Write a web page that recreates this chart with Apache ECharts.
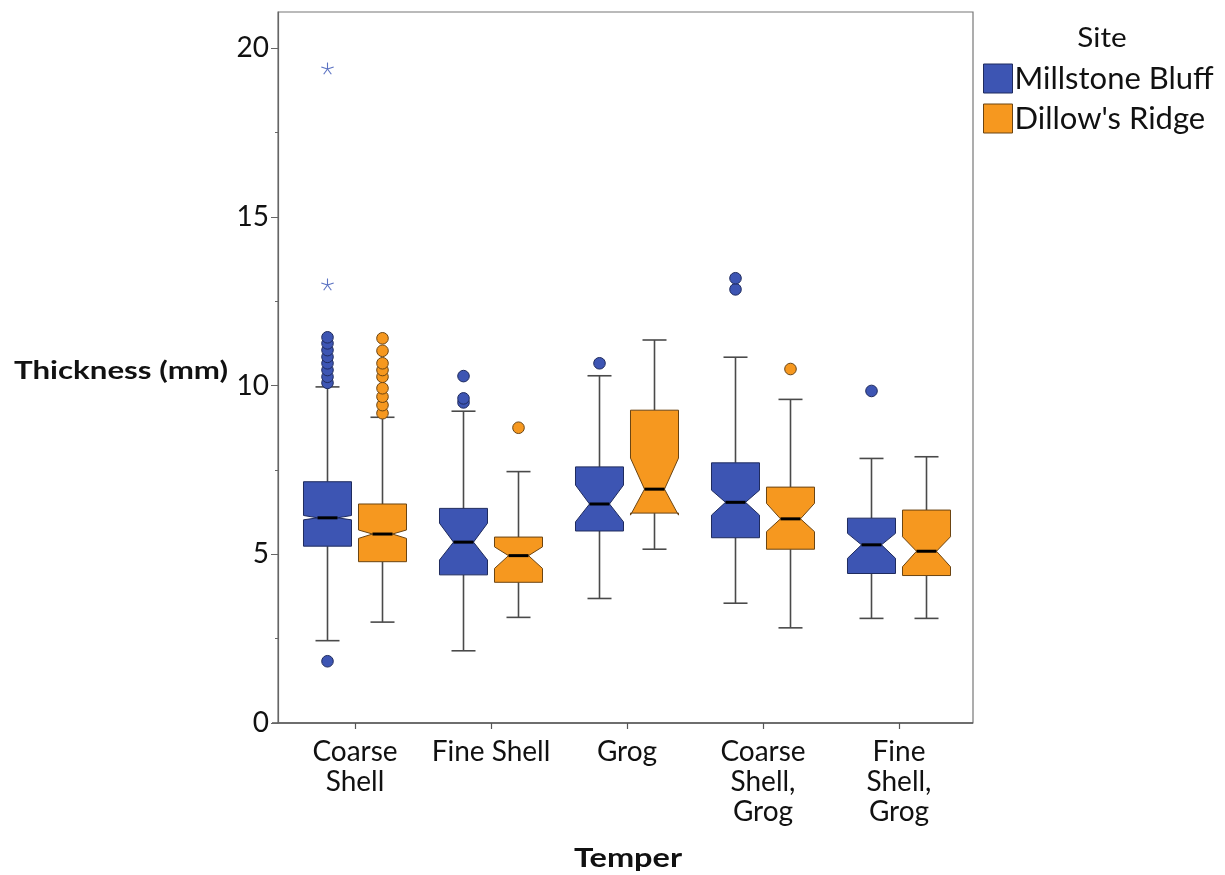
<!DOCTYPE html>
<html>
<head>
<meta charset="utf-8">
<script src="https://cdn.jsdelivr.net/npm/echarts@6/dist/echarts.min.js"></script>
<style>
  html, body { margin: 0; padding: 0; background: #fff; }
  #chart { width: 1225px; height: 875px; }
</style>
</head>
<body>
<div id="chart"></div>
<script>
// Temper categories along the x axis
const categories = ['Coarse\nShell', 'Fine Shell', 'Grog', 'Coarse\nShell,\nGrog', 'Fine\nShell,\nGrog'];
const sites = ['Millstone Bluff', "Dillow's Ridge"];

// Y axis ticks (mm)
const yMajorTicks = [0, 5, 10, 15, 20];
const yMinorTicks = [2.5, 7.5, 12.5, 17.5];

// Millstone Bluff box statistics, one value per temper
const mbWhiskerLow  = [2.44, 2.14, 3.69, 3.55, 3.10];
const mbQ1          = [5.24, 4.39, 5.69, 5.49, 4.43];
const mbNotchLow    = [6.02, 4.83, 5.96, 6.16, 4.88];
const mbMedian      = [6.08, 5.36, 6.49, 6.54, 5.28];
const mbNotchHigh   = [6.15, 5.92, 7.05, 6.90, 5.62];
const mbQ3          = [7.15, 6.36, 7.59, 7.71, 6.07];
const mbWhiskerHigh = [9.96, 9.24, 10.29, 10.84, 7.84];
const mbOutliers = [
  [1.83, 10.08, 10.26, 10.46, 10.66, 10.85, 11.05, 11.25, 11.43],
  [9.50, 9.62, 10.28],
  [10.66],
  [12.85, 13.18],
  [9.84]
];
const mbExtremes = [[12.98, 19.38], [], [], [], []];

// Dillow's Ridge box statistics, one value per temper
const drWhiskerLow  = [2.99, 3.13, 5.15, 2.82, 3.10];
const drQ1          = [4.78, 4.17, 6.22, 5.15, 4.37];
const drNotchLow    = [5.47, 4.58, 6.16, 5.67, 4.63];
const drMedian      = [5.60, 4.96, 6.93, 6.05, 5.09];
const drNotchHigh   = [5.72, 5.22, 7.85, 6.51, 5.52];
const drQ3          = [6.49, 5.51, 9.27, 6.99, 6.31];
const drWhiskerHigh = [9.06, 7.45, 11.35, 9.59, 7.89];
const drOutliers = [
  [9.18, 9.42, 9.67, 9.92, 10.26, 10.46, 10.66, 11.03, 11.40],
  [8.75],
  [],
  [10.49],
  []
];
const drExtremes = [[], [], [], [], []];

const palette = {
  'Millstone Bluff': { fill: '#3d55b3', edge: '#1f2b5e', star: '#5b72c2' },
  "Dillow's Ridge": { fill: '#f6981f', edge: '#6b4412', star: '#f6981f' }
};

function boxRows(wl, q1, nl, med, nh, q3, wh) {
  return categories.map((c, i) => [i, wl[i], q1[i], nl[i], med[i], nh[i], q3[i], wh[i]]);
}

// Notched box-and-whisker with outliers (circles) and extremes (stars)
function makeRenderer(side, colors, outliers, extremes) {
  return function (params, api) {
    const idx = api.value(0);
    const band = api.size([1, 0])[0];
    const cx = api.coord([idx, 0])[0] + side * band * 0.2022;
    const half = band * 0.1765;
    const depth = band * 0.103;
    const capHalf = half * 0.5;
    const y = (v) => api.coord([idx, v])[1];
    const wl = y(api.value(1)), q1 = y(api.value(2)), nl = y(api.value(3));
    const md = y(api.value(4)), nh = y(api.value(5)), q3 = y(api.value(6));
    const wh = y(api.value(7));
    const L = cx - half, R = cx + half;
    const children = [];
    const wStyle = { stroke: '#4a4a4a', lineWidth: 1.6 };
    children.push({ type: 'line', shape: { x1: cx, y1: wh, x2: cx, y2: q3 }, style: wStyle });
    children.push({ type: 'line', shape: { x1: cx, y1: q1, x2: cx, y2: wl }, style: wStyle });
    children.push({ type: 'line', shape: { x1: cx - capHalf, y1: wh, x2: cx + capHalf, y2: wh }, style: wStyle });
    children.push({ type: 'line', shape: { x1: cx - capHalf, y1: wl, x2: cx + capHalf, y2: wl }, style: wStyle });
    children.push({
      type: 'polygon',
      shape: { points: [
        [L, q3], [L, nh], [L + depth, md], [L, nl], [L, q1],
        [R, q1], [R, nl], [R - depth, md], [R, nh], [R, q3]
      ] },
      style: { fill: colors.fill, stroke: colors.edge, lineWidth: 1 }
    });
    children.push({ type: 'line', shape: { x1: L + depth, y1: md, x2: R - depth, y2: md }, style: { stroke: '#000', lineWidth: 3 } });
    (outliers[idx] || []).forEach(v => {
      children.push({ type: 'circle', shape: { cx: cx, cy: y(v), r: 5.8 }, style: { fill: colors.fill, stroke: colors.edge, lineWidth: 1 } });
    });
    (extremes[idx] || []).forEach(v => {
      const sy = y(v), r = 6.5;
      for (let k = 0; k < 5; k++) {
        const a = -Math.PI / 2 + k * 2 * Math.PI / 5;
        children.push({ type: 'line', shape: { x1: cx, y1: sy, x2: cx + r * Math.cos(a), y2: sy + r * Math.sin(a) }, style: { stroke: colors.star, lineWidth: 1.1 } });
      }
    });
    return { type: 'group', children: children };
  };
}

const chart = echarts.init(document.getElementById('chart'));
const font = 'Lato, "DejaVu Sans", sans-serif';

// Wide headings: Lato stretched horizontally
function heading(text, x, y, size, weight, align, stretch) {
  return {
    type: 'text', x: x, y: y, scaleX: stretch, silent: true,
    style: { text: text, x: 0, y: 0, textAlign: align, textVerticalAlign: 'middle',
             fontFamily: 'Lato', fontSize: size, fontWeight: weight, fill: '#111' }
  };
}

chart.setOption({
  backgroundColor: '#ffffff',
  animation: false,
  textStyle: { fontFamily: font },
  legend: {
    orient: 'vertical',
    left: 983,
    top: 63,
    padding: 0,
    itemWidth: 29,
    itemHeight: 29,
    itemGap: 9,
    icon: 'rect',
    textStyle: { fontFamily: font, fontSize: 31, color: '#111', padding: [0, 0, 0, -3] },
    data: sites.map(s => ({ name: s, itemStyle: { color: palette[s].fill, borderColor: palette[s].edge, borderWidth: 1 } }))
  },
  grid: { left: 287, top: 12, width: 680, height: 711, containLabel: false },
  xAxis: {
    type: 'category',
    data: categories,
    boundaryGap: true,
    axisLine: { show: false },
    axisTick: { show: true, alignWithLabel: true, length: 6, lineStyle: { color: '#555', width: 1.2 } },
    axisLabel: { fontFamily: font, fontSize: 28, color: '#111', lineHeight: 30, margin: 14, interval: 0 },
    splitLine: { show: false }
  },
  yAxis: [
    {
      type: 'value', min: 0, max: 21.07, offset: 9,
      axisLine: { show: true, lineStyle: { color: '#666', width: 1.2 } },
      axisTick: { show: true, length: 7, customValues: yMajorTicks, lineStyle: { color: '#666' } },
      axisLabel: { show: true, customValues: yMajorTicks, fontFamily: font, fontSize: 28, color: '#111', margin: 9 },
      splitLine: { show: false }
    },
    {
      type: 'value', min: 0, max: 21.07, offset: 9, position: 'left',
      axisLine: { show: false },
      axisTick: { show: true, length: 3, customValues: yMinorTicks, lineStyle: { color: '#666' } },
      axisLabel: { show: false },
      splitLine: { show: false }
    }
  ],
  graphic: [
    { type: 'rect', shape: { x: 278, y: 12, width: 695, height: 711 }, style: { fill: 'none', stroke: '#777', lineWidth: 1.2 }, silent: true, z: 0 },
    { type: 'line', shape: { x1: 272, y1: 723, x2: 973, y2: 723 }, style: { stroke: '#555', lineWidth: 1.4 }, silent: true },
    heading('Thickness (mm)', 14, 371, 25, 'bold', 'left', 1.25),
    heading('Temper', 628, 859, 26, 'bold', 'center', 1.25),
    heading('Site', 1102, 38, 27, 'normal', 'center', 1.1)
  ],
  series: [
    {
      name: sites[0],
      type: 'custom',
      itemStyle: { color: palette[sites[0]].fill },
      renderItem: makeRenderer(-1, palette[sites[0]], mbOutliers, mbExtremes),
      encode: { x: 0, y: [1, 2, 4, 6, 7] },
      data: boxRows(mbWhiskerLow, mbQ1, mbNotchLow, mbMedian, mbNotchHigh, mbQ3, mbWhiskerHigh)
    },
    {
      name: sites[1],
      type: 'custom',
      itemStyle: { color: palette[sites[1]].fill },
      renderItem: makeRenderer(1, palette[sites[1]], drOutliers, drExtremes),
      encode: { x: 0, y: [1, 2, 4, 6, 7] },
      data: boxRows(drWhiskerLow, drQ1, drNotchLow, drMedian, drNotchHigh, drQ3, drWhiskerHigh)
    }
  ]
});
</script>
</body>
</html>
